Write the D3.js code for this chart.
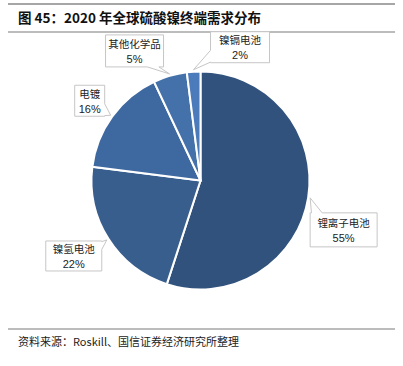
<!DOCTYPE html>
<html>
<head>
<meta charset="utf-8">
<script src="https://cdn.jsdelivr.net/npm/d3@7/dist/d3.min.js"></script>
<style>
  body { margin: 0; background: #fff; }
  svg { display: block; font-family: "Noto Sans CJK SC", "Noto Sans", sans-serif; }
</style>
</head>
<body>
<svg id="chart" width="403" height="366"></svg>
<script>
// data
var categories = ["锂离子电池", "镍氢电池", "电镀", "其他化学品", "镍镉电池"];
var shares = [55, 22, 16, 5, 2];
var colors = ["#30527c", "#385e8e", "#3e68a0", "#4571aa", "#4b7bbb"];

// where each callout box sits relative to its pointer tip, and on which edge the wedge goes
var calloutLayout = [
  {dx: 0,   dy: 15,  w: 67, h: 34, edge: "top",    f0: 0.02, f1: 0.18},
  {dx: -61, dy: 1,   w: 56, h: 30, edge: "right",  f0: 0.02, f1: 0.28},
  {dx: -36, dy: -30, w: 30, h: 31, edge: "right",  f0: 0.6,  f1: 0.98},
  {dx: -64, dy: -39, w: 58, h: 32, edge: "bottom", f0: 0.72, f1: 0.92},
  {dx: 17,  dy: -38, w: 59, h: 31, edge: "left",   f0: 0.6,  f1: 0.98}
];

var svg = d3.select("#chart");
var cx = 200.5, cy = 180.5, r = 109;

// rules + title + source
var rule = "#a6a6a6";
svg.append("line").attr("x1", 8).attr("x2", 395).attr("y1", 4).attr("y2", 4)
  .attr("stroke", rule).attr("stroke-width", 2);
svg.append("line").attr("x1", 8).attr("x2", 395).attr("y1", 32).attr("y2", 32)
  .attr("stroke", rule).attr("stroke-width", 1.5);
svg.append("line").attr("x1", 8).attr("x2", 395).attr("y1", 329).attr("y2", 329)
  .attr("stroke", rule).attr("stroke-width", 1.5);

svg.append("text").attr("x", 18).attr("y", 23)
  .attr("font-size", 13.5).attr("font-weight", "bold").attr("fill", "#111")
  .text("图 45：2020 年全球硫酸镍终端需求分布");

svg.append("text").attr("x", 18).attr("y", 346)
  .attr("font-size", 11).attr("fill", "#222")
  .text("资料来源：Roskill、国信证券经济研究所整理");

// pie
var data = categories.map(function (c, i) { return {name: c, value: shares[i], i: i}; });
var pie = d3.pie().sort(null).value(function (d) { return d.value; });
var arcs = pie(data);
var arc = d3.arc().innerRadius(0).outerRadius(r);

var g = svg.append("g").attr("transform", "translate(" + cx + "," + cy + ")");
g.selectAll("path.slice")
  .data(arcs)
  .enter().append("path")
  .attr("class", "slice")
  .attr("d", arc)
  .attr("fill", function (d) { return colors[d.data.i]; })
  .attr("stroke", "#fff")
  .attr("stroke-width", 2);

// callouts
function calloutPath(x, y, w, h, L, tx, ty) {
  var pts = [];
  var tl = [x, y], tr = [x + w, y], br = [x + w, y + h], bl = [x, y + h];
  var tip = [tx, ty];
  if (L.edge === "top") {
    pts = [tl, [x + w * L.f0, y], tip, [x + w * L.f1, y], tr, br, bl];
  } else if (L.edge === "right") {
    pts = [tl, tr, [x + w, y + h * L.f0], tip, [x + w, y + h * L.f1], br, bl];
  } else if (L.edge === "bottom") {
    pts = [tl, tr, br, [x + w * L.f1, y + h], tip, [x + w * L.f0, y + h], bl];
  } else {
    pts = [tl, tr, br, bl, [x, y + h * L.f1], tip, [x, y + h * L.f0]];
  }
  return "M" + pts.map(function (p) { return p[0] + "," + p[1]; }).join("L") + "Z";
}

var tipArc = d3.arc().innerRadius(r + 2).outerRadius(r + 2);
var labels = svg.append("g");
arcs.forEach(function (a, i) {
  var c = tipArc.centroid(a);
  var tx = cx + c[0], ty = cy + c[1];
  var L = calloutLayout[i];
  var bx = tx + L.dx, by = ty + L.dy;
  labels.append("path")
    .attr("d", calloutPath(bx, by, L.w, L.h, L, tx, ty))
    .attr("fill", "#fff")
    .attr("stroke", "#c6c6c6")
    .attr("stroke-width", 1);
  labels.append("text")
    .attr("x", bx + L.w / 2).attr("y", by + L.h / 2 - 3)
    .attr("text-anchor", "middle")
    .attr("font-size", 10.5)
    .attr("fill", "#222")
    .text(a.data.name);
  labels.append("text")
    .attr("x", bx + L.w / 2).attr("y", by + L.h / 2 + 12)
    .attr("text-anchor", "middle")
    .attr("font-family", "'Liberation Sans', Arial, sans-serif")
    .attr("font-size", 11)
    .attr("fill", "#222")
    .text(a.data.value + "%");
});
</script>
</body>
</html>
